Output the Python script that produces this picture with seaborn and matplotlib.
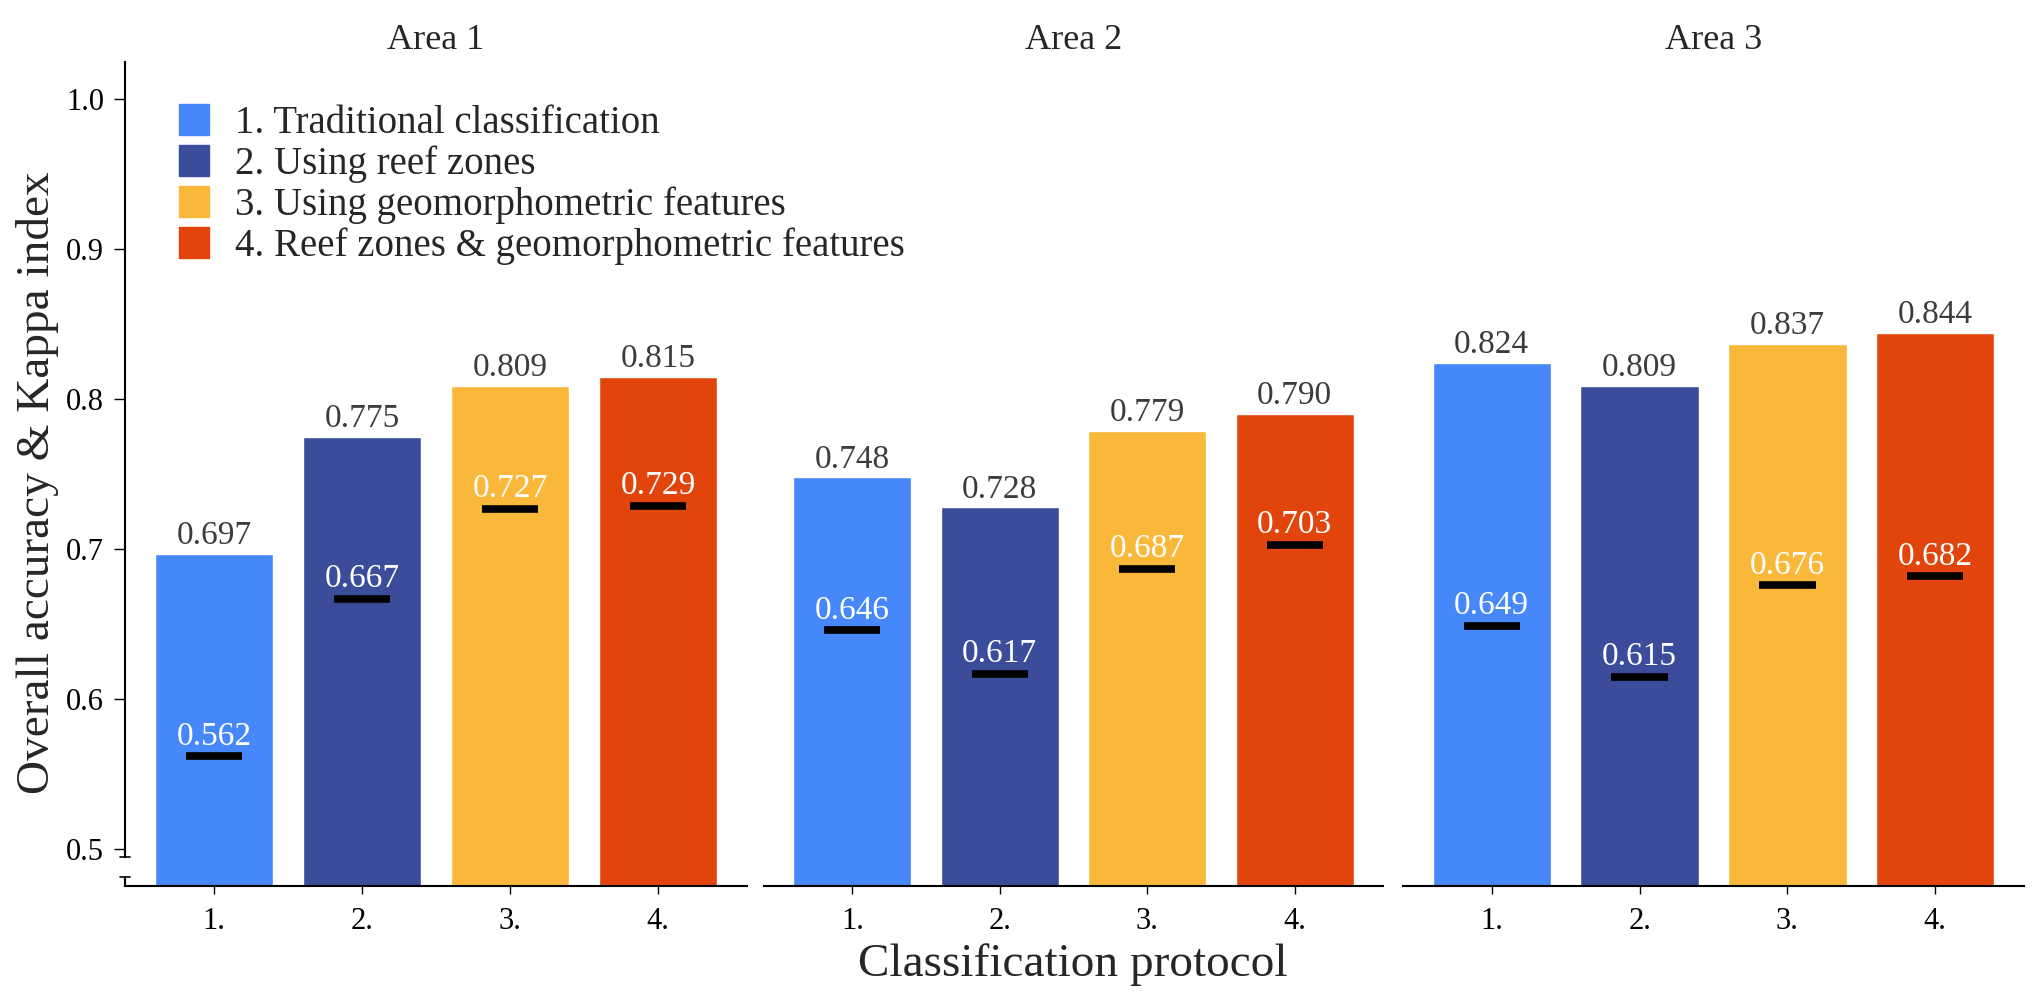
import numpy as np
import pandas as pd
import matplotlib.pyplot as plt
import matplotlib.patches as mpatches
import seaborn as sns

areas = ["Area 1", "Area 2", "Area 3"]
protocols = ["1.", "2.", "3.", "4."]
protocol_names = ["1. Traditional classification",
                  "2. Using reef zones",
                  "3. Using geomorphometric features",
                  "4. Reef zones & geomorphometric features"]
overall_acc = [[0.697, 0.775, 0.809, 0.815],
               [0.748, 0.728, 0.779, 0.790],
               [0.824, 0.809, 0.837, 0.844]]
kappa = [[0.562, 0.667, 0.727, 0.729],
         [0.646, 0.617, 0.687, 0.703],
         [0.649, 0.615, 0.676, 0.682]]
colors = ["#4687F9", "#3B4C9A", "#F9B83A", "#E1450C"]
y_ticks = [0.5, 0.6, 0.7, 0.8, 0.9, 1.0]

rows = []
for a, area in enumerate(areas):
    for p, prot in enumerate(protocols):
        rows.append({"area": area, "protocol": prot,
                     "oa": overall_acc[a][p], "kappa": kappa[a][p]})
df = pd.DataFrame(rows)

sns.set_theme(style="white")
plt.rcParams["font.family"] = ["Liberation Serif", "DejaVu Serif"]

W, H = 2039, 1006
fig = plt.figure(figsize=(W / 100, H / 100), dpi=100)
panel_x = [(125, 747), (764, 1383), (1403, 2024)]
top_px, bot_px = 61.7, 886
ymin, ymax = 0.4755, 1.025
text_col = "#3c3c3c"

axes = []
for i, area in enumerate(areas):
    x0, x1 = panel_x[i]
    ax = fig.add_axes([x0 / W, 1 - bot_px / H, (x1 - x0) / W, (bot_px - top_px) / H])
    sub = df[df["area"] == area]
    sns.barplot(data=sub, x="protocol", y="oa", hue="protocol", palette=colors,
                width=0.8, legend=False, ax=ax, saturation=1)
    xs = np.arange(len(protocols))
    ax.hlines(sub["kappa"].values, xs - 0.19, xs + 0.19, color="black",
              linewidth=5.5, zorder=3)
    for xi, (o, k) in enumerate(zip(sub["oa"], sub["kappa"])):
        ax.annotate(f"{o:.3f}", (xi, o), xytext=(0, 7), textcoords="offset points",
                    ha="center", va="baseline", fontsize=24, color=text_col)
        ax.annotate(f"{k:.3f}", (xi, k), xytext=(0, 8.3), textcoords="offset points",
                    ha="center", va="baseline", fontsize=24, color="white", zorder=4)
    ax.set_xlim(-0.6, 3.6)
    ax.set_ylim(ymin, ymax)
    ax.set_xlabel("")
    ax.set_ylabel("")
    ax.set_title(area, fontsize=26, pad=9)
    for s in ["top", "right"]:
        ax.spines[s].set_visible(False)
    ax.spines["bottom"].set_linewidth(1.5)
    ax.spines["bottom"].set_color("black")
    ax.tick_params(axis="x", bottom=True, length=6, width=1, colors="black",
                   labelsize=22, pad=9)
    if i == 0:
        ax.set_yticks(y_ticks)
        ax.set_yticklabels([f"{v:.1f}" for v in y_ticks])
        ax.tick_params(axis="y", left=True, length=8, width=1, colors="black",
                       labelsize=22, pad=7)
        ax.spines["left"].set_linewidth(1.5)
        ax.spines["left"].set_color("black")
        ax.spines["left"].set_bounds(0.495, ymax)
        # axis break marks
        cap = 0.035
        ax.plot([-0.6, -0.6], [ymin, 0.4816], color="black", lw=1.5, clip_on=False)
        ax.plot([-0.6 - cap, -0.6 + cap], [0.4816, 0.4816], color="black", lw=1.2,
                clip_on=False)
        ax.plot([-0.6 - cap, -0.6 + cap], [0.495, 0.495], color="black", lw=1.2,
                clip_on=False)
    else:
        ax.spines["left"].set_visible(False)
        ax.set_yticks([])
    axes.append(ax)

handles = [mpatches.Patch(color=c, label=n) for c, n in zip(colors, protocol_names)]
fig.legend(handles=handles, loc="upper left", bbox_to_anchor=(179 / W, 1 - 104 / H),
           frameon=False, fontsize=28, handlelength=0.77, handleheight=0.85,
           handletextpad=0.68, labelspacing=0.08, borderpad=0, borderaxespad=0)

fig.text(1073 / W, 1 - 965 / H, "Classification protocol", ha="center", va="center",
         fontsize=34)
fig.text(38 / W, 1 - 483 / H, "Overall accuracy & Kappa index", ha="center",
         va="center", rotation=90, fontsize=34)

fig.savefig("out.png", dpi=100)
